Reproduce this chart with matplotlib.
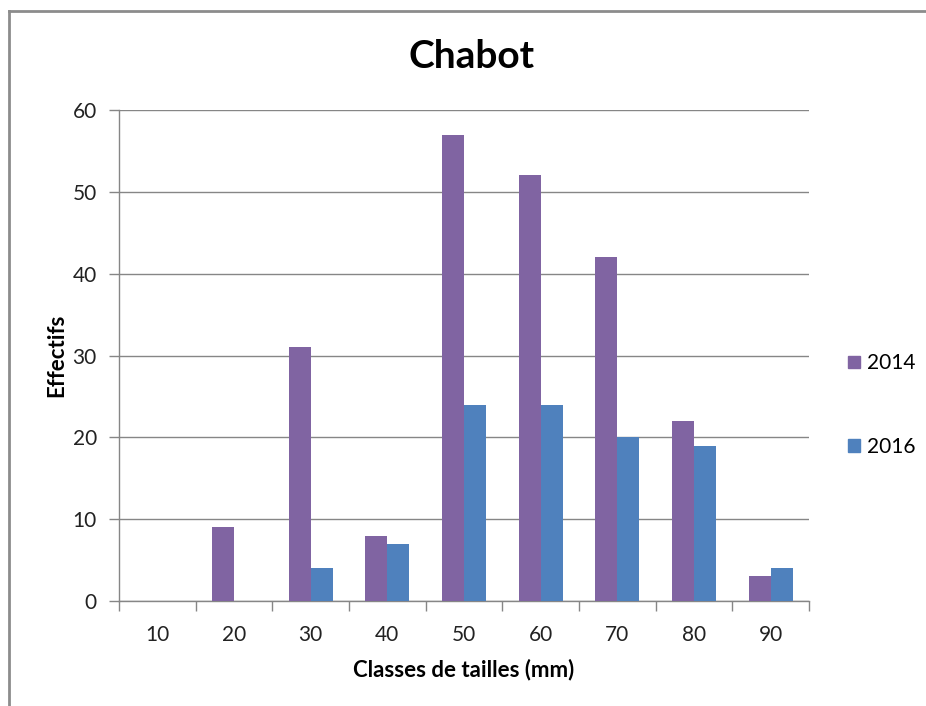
import matplotlib
matplotlib.use("Agg")
import matplotlib.pyplot as plt
from matplotlib.lines import Line2D
from matplotlib.patches import Patch
import numpy as np

categories = ["10", "20", "30", "40", "50", "60", "70", "80", "90"]
values_2014 = [0, 9, 31, 8, 57, 52, 42, 22, 3]
values_2016 = [0, 0, 4, 7, 24, 24, 20, 19, 4]
series_labels = ["2014", "2016"]
yticks = [0, 10, 20, 30, 40, 50, 60]

plt.rcParams['font.family'] = ['Lato', 'DejaVu Sans']
c14 = "#8064A2"
c16 = "#4F81BD"
gray = "#868686"

W, H = 926, 706
fig = plt.figure(figsize=(W/100, H/100), dpi=100)
ax = fig.add_axes([119/W, 1-601/H, (809-119)/W, (601-110)/H])

x = np.arange(len(categories))
bw = 2/3.5/2
ax.bar(x - bw/2, values_2014, width=bw, color=c14, label=series_labels[0], zorder=3)
ax.bar(x + bw/2, values_2016, width=bw, color=c16, label=series_labels[1], zorder=3)

ax.set_xlim(-0.5, len(categories)-0.5)
ax.set_ylim(0, 60)
ax.set_yticks(yticks)
ax.set_yticklabels([str(v) for v in yticks], fontsize=15, color="#222222")
ax.set_xticks(x)
ax.set_xticklabels(categories, fontsize=15, color="#222222")
ax.set_xticks(np.arange(len(categories)+1) - 0.5, minor=True)
ax.tick_params(axis='x', which='major', length=0, pad=17)
ax.tick_params(axis='x', which='minor', length=7, color=gray, width=1)
ax.tick_params(axis='y', which='major', length=7, color=gray, width=1, pad=9)
ax.yaxis.grid(True, color=gray, linewidth=1, zorder=0)
ax.set_axisbelow(True)
for s in ["top", "right"]:
    ax.spines[s].set_visible(False)
for s in ["left", "bottom"]:
    ax.spines[s].set_color(gray)
    ax.spines[s].set_linewidth(1)

ax.set_ylabel("Effectifs", fontsize=16, fontweight="bold", labelpad=4)
ax.set_xlabel("Classes de tailles (mm)", fontsize=16, fontweight="bold", labelpad=10)
fig.text(472/W, 1-57/H, "Chabot", fontsize=28, fontweight="bold", ha="center", va="center")

handles = [Patch(color=c14), Patch(color=c16)]
leg = fig.legend(handles, series_labels, loc="upper left", bbox_to_anchor=(840/W, 1-345/H),
                 frameon=False, fontsize=15, handlelength=0.55, handleheight=0.55,
                 handletextpad=0.35, labelspacing=3.05, borderaxespad=0)

# outer border (left and top visible)
fig.add_artist(Line2D([8.5/W, 8.5/W], [0, 1-11/H], color="#8c8c8c", linewidth=2, transform=fig.transFigure))
fig.add_artist(Line2D([8.5/W, 1], [1-11/H, 1-11/H], color="#8c8c8c", linewidth=2, transform=fig.transFigure))

fig.savefig("out.png", dpi=100)
